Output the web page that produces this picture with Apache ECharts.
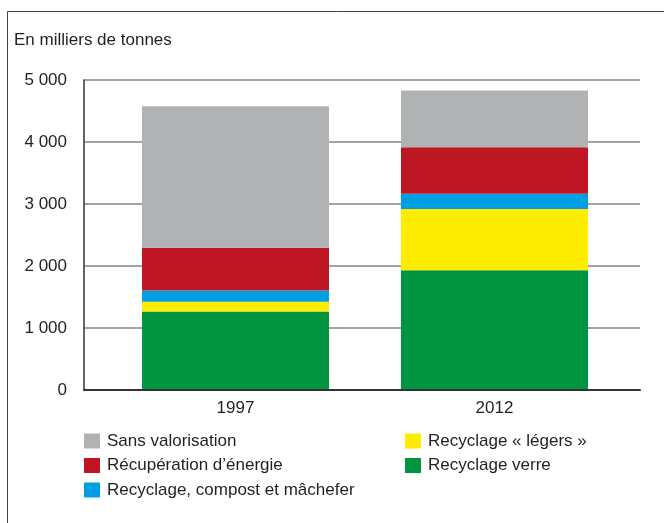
<!DOCTYPE html>
<html>
<head>
<meta charset="utf-8">
<script src="https://cdn.jsdelivr.net/npm/echarts@6/dist/echarts.min.js"></script>
<style>
  html, body { margin: 0; padding: 0; background: #fff; }
  #chart { width: 664px; height: 523px; }
</style>
</head>
<body>
<div id="chart"></div>
<script>
// Déchets ménagers traités, en milliers de tonnes
const years = ['1997', '2012'];

const recyclageVerre   = [1265, 1930];
const recyclageLegers  = [160, 990];
const recyclageCompost = [180, 245];
const recuperation     = [690, 750];
const sansValorisation = [2280, 915];

const yTickValues = [0, 1000, 2000, 3000, 4000, 5000];
const yTickLabels = ['0', '1 000', '2 000', '3 000', '4 000', '5 000'];

const names = {
  verre: 'Recyclage verre',
  legers: 'Recyclage « légers »',
  compost: 'Recyclage, compost et mâchefer',
  energie: 'Récupération d\u2019énergie',
  sans: 'Sans valorisation'
};

const colors = {
  verre: '#009540',
  legers: '#ffed00',
  compost: '#009fe3',
  energie: '#be1622',
  sans: '#b1b2b4'
};

const FONT = '"Liberation Sans", Arial, sans-serif';
const TEXT = '#231f20';

const chart = echarts.init(document.getElementById('chart'), null, { renderer: 'canvas' });

function barSeries(key, values) {
  return {
    name: names[key],
    type: 'bar',
    stack: 'total',
    xAxisIndex: 1,
    yAxisIndex: 1,
    barWidth: 187,
    itemStyle: { color: colors[key] },
    data: values,
    animation: false
  };
}

const legendCommon = {
  orient: 'vertical',
  padding: 0,
  itemWidth: 16,
  itemHeight: 15,
  itemGap: 7.5,
  icon: 'rect',
  selectedMode: false,
  textStyle: { fontFamily: FONT, fontSize: 17, color: TEXT, padding: [0, 0, 0, 2] }
};

chart.setOption({
  animation: false,
  title: {
    text: 'En milliers de tonnes',
    left: 14,
    top: 32,
    padding: 0,
    textStyle: { fontFamily: FONT, fontSize: 17, fontWeight: 'normal', color: TEXT }
  },
  graphic: [{
    type: 'rect',
    shape: { x: 7.5, y: 11.5, width: 800, height: 600 },
    style: { fill: 'none', stroke: '#444', lineWidth: 1 },
    silent: true,
    z: -1
  }],
  legend: [
    Object.assign({}, legendCommon, {
      left: 84, top: 432.5,
      data: [names.sans, names.energie, names.compost]
    }),
    Object.assign({}, legendCommon, {
      left: 405, top: 432.5,
      data: [names.legers, names.verre]
    })
  ],
  grid: [
    { left: 84, right: 24, top: 80, bottom: 133 },
    { left: 106, right: 40, top: 80, bottom: 133 }
  ],
  xAxis: [
    {
      gridIndex: 0,
      type: 'category',
      data: years,
      axisLine: { show: true, lineStyle: { color: '#333', width: 2 } },
      axisTick: { show: false },
      axisLabel: { show: false },
      splitLine: { show: false },
      z: 5
    },
    {
      gridIndex: 1,
      type: 'category',
      data: years,
      axisLine: { show: false },
      axisTick: { show: false },
      axisLabel: { margin: 10, fontFamily: FONT, fontSize: 17, color: TEXT }
    }
  ],
  yAxis: [
    {
      gridIndex: 0,
      type: 'value',
      min: 0,
      max: 5000,
      interval: 1000,
      axisLine: { show: true, lineStyle: { color: '#333', width: 1.5 } },
      axisTick: { show: false },
      axisLabel: {
        margin: 17,
        fontFamily: FONT,
        fontSize: 17,
        color: TEXT,
        formatter: v => yTickLabels[yTickValues.indexOf(v)]
      },
      splitLine: { show: true, lineStyle: { color: '#858585', width: 1.5 } }
    },
    {
      gridIndex: 1,
      type: 'value',
      min: 0,
      max: 5000,
      interval: 1000,
      show: false
    }
  ],
  series: [
    barSeries('verre', recyclageVerre),
    barSeries('legers', recyclageLegers),
    barSeries('compost', recyclageCompost),
    barSeries('energie', recuperation),
    barSeries('sans', sansValorisation)
  ]
});
</script>
</body>
</html>
